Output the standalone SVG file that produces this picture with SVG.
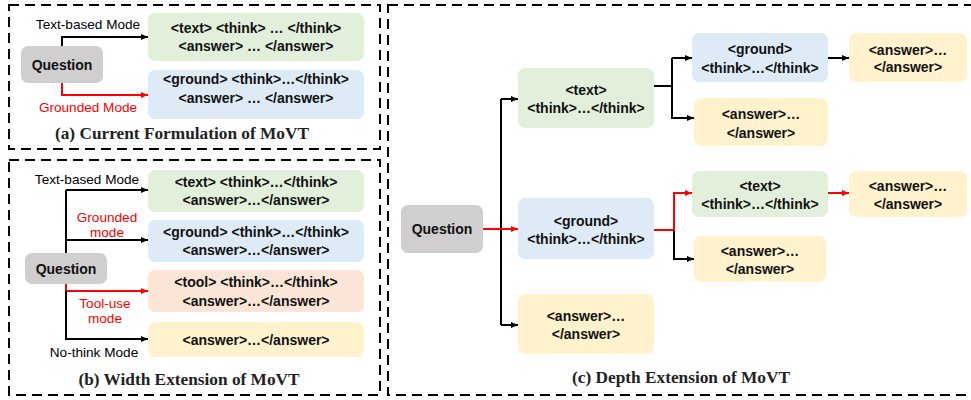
<svg xmlns="http://www.w3.org/2000/svg" width="971" height="400" viewBox="0 0 971 400">
<defs>
<marker id="ab" markerUnits="userSpaceOnUse" markerWidth="7" markerHeight="6" refX="7" refY="3" orient="auto"><path d="M0,0 L7,3 L0,6 z" fill="#000"/></marker>
<marker id="ar" markerUnits="userSpaceOnUse" markerWidth="7" markerHeight="6" refX="7" refY="3" orient="auto"><path d="M0,0 L7,3 L0,6 z" fill="#ff0000"/></marker>
<style>
.panel{fill:none;stroke:#000;stroke-width:2;stroke-dasharray:10,6}
.box{rx:7;ry:7}
.g{fill:#e2efda}.b{fill:#deebf7}.p{fill:#fbe5d6}.y{fill:#fff2cc}.q{fill:#d0cece}
.t{font-family:"Liberation Sans",Arial,sans-serif;font-weight:bold;font-size:14px;fill:#111;text-anchor:middle}
.lab{font-family:"Liberation Sans",Arial,sans-serif;font-size:13.6px;text-anchor:middle}
.red{fill:#ff0000}
.title{font-family:"Liberation Serif","Times New Roman",serif;font-weight:bold;font-size:17.3px;text-anchor:middle;fill:#222}
.cb{fill:none;stroke:#000;stroke-width:2;marker-end:url(#ab)}
.cbn{fill:none;stroke:#000;stroke-width:2}
.cr{fill:none;stroke:#ff0000;stroke-width:2;marker-end:url(#ar)}
.crn{fill:none;stroke:#ff0000;stroke-width:2}
</style>
</defs>
<rect width="971" height="400" fill="#fff"/>
<g id="panels">
<rect class="panel" x="9" y="5" width="371" height="144"/>
<rect class="panel" x="9" y="160" width="371" height="235"/>
<rect class="panel" x="388" y="5" width="590" height="390"/>
</g>
<g id="connectors">
<path class="cb" d="M62,46 V37 H148"/>
<path class="cr" d="M62,83 V95 H148"/>
<path class="cbn" d="M66,190 V253"/>
<path class="cb" d="M66,190 H148"/>
<path class="cb" d="M66,240 H148"/>
<path class="cr" d="M66,284 V291 H148"/>
<path class="cb" d="M66,291 V339 H148"/>
<path class="cbn" d="M501,99 V325"/>
<path class="cb" d="M501,99 H518"/>
<path class="cb" d="M501,325 H518"/>
<path class="cr" d="M483,229 H518"/>
<path class="cbn" d="M654,86 H672"/>
<path class="cb" d="M672,58 V118 H694"/>
<path class="cb" d="M672,58 H692"/>
<path class="cb" d="M828,58 H849"/>
<path class="cb" d="M674,230 V259 H694"/>
<path class="cr" d="M654,230 H674 V193 H692"/>
<path class="cr" d="M828,193 H849"/>
</g>
<g id="labels">
<text class="lab" x="88" y="29">Text-based Mode</text>
<text class="lab red" x="88" y="112">Grounded Mode</text>
<text class="lab" x="87" y="184">Text-based Mode</text>
<text class="lab red" x="107" y="222">Grounded</text>
<text class="lab red" x="107" y="237">mode</text>
<text class="lab red" x="105" y="308">Tool-use</text>
<text class="lab red" x="105" y="323">mode</text>
<text class="lab" x="94" y="357">No-think Mode</text>
<text class="title" x="182" y="139">(a) Current Formulation of MoVT</text>
<text class="title" x="189" y="385">(b) Width Extension of MoVT</text>
<text class="title" x="681" y="383">(c) Depth Extension of MoVT</text>
</g>
<g id="a-question"><rect class="box q" x="21" y="46" width="82" height="37"/><text class="t" x="62" y="69.5">Question</text></g>
<g id="a-text"><rect class="box g" x="148" y="13" width="216" height="48"/><text class="t" x="256" y="33">&lt;text&gt; &lt;think&gt; … &lt;/think&gt;</text><text class="t" x="256" y="51">&lt;answer&gt; … &lt;/answer&gt;</text></g>
<g id="a-ground"><rect class="box b" x="148" y="70" width="216" height="49"/><text class="t" x="256" y="84">&lt;ground&gt; &lt;think&gt;…&lt;/think&gt;</text><text class="t" x="256" y="103">&lt;answer&gt; … &lt;/answer&gt;</text></g>
<g id="b-question"><rect class="box q" x="25" y="253" width="82" height="31"/><text class="t" x="66" y="274">Question</text></g>
<g id="b-text"><rect class="box g" x="148" y="170" width="216" height="42"/><text class="t" x="256" y="187">&lt;text&gt; &lt;think&gt;…&lt;/think&gt;</text><text class="t" x="256" y="205">&lt;answer&gt;…&lt;/answer&gt;</text></g>
<g id="b-ground"><rect class="box b" x="148" y="220" width="216" height="42"/><text class="t" x="256" y="236.5">&lt;ground&gt; &lt;think&gt;…&lt;/think&gt;</text><text class="t" x="256" y="255">&lt;answer&gt;…&lt;/answer&gt;</text></g>
<g id="b-tool"><rect class="box p" x="148" y="270" width="216" height="42"/><text class="t" x="256" y="287">&lt;tool&gt; &lt;think&gt;…&lt;/think&gt;</text><text class="t" x="256" y="305.5">&lt;answer&gt;…&lt;/answer&gt;</text></g>
<g id="b-nothink"><rect class="box y" x="148" y="322" width="216" height="35"/><text class="t" x="256" y="345">&lt;answer&gt;…&lt;/answer&gt;</text></g>
<g id="c-question"><rect class="box q" x="401" y="205" width="82" height="48"/><text class="t" x="442" y="234">Question</text></g>
<g id="c-text1"><rect class="box g" x="518" y="68" width="136" height="60"/><text class="t" x="586" y="95">&lt;text&gt;</text><text class="t" x="586" y="113">&lt;think&gt;…&lt;/think&gt;</text></g>
<g id="c-ground1"><rect class="box b" x="518" y="198" width="136" height="61"/><text class="t" x="586" y="226">&lt;ground&gt;</text><text class="t" x="586" y="244">&lt;think&gt;…&lt;/think&gt;</text></g>
<g id="c-answer1"><rect class="box y" x="518" y="294" width="136" height="60"/><text class="t" x="586" y="321">&lt;answer&gt;…</text><text class="t" x="586" y="339">&lt;/answer&gt;</text></g>
<g id="c-ground2"><rect class="box b" x="692" y="33" width="136" height="49"/><text class="t" x="760" y="54">&lt;ground&gt;</text><text class="t" x="760" y="73">&lt;think&gt;…&lt;/think&gt;</text></g>
<g id="c-answer2"><rect class="box y" x="694" y="98" width="134" height="48"/><text class="t" x="761" y="119">&lt;answer&gt;…</text><text class="t" x="761" y="137.5">&lt;/answer&gt;</text></g>
<g id="c-answer3"><rect class="box y" x="849" y="33" width="118" height="49"/><text class="t" x="908" y="55">&lt;answer&gt;…</text><text class="t" x="908" y="72">&lt;/answer&gt;</text></g>
<g id="c-text2"><rect class="box g" x="692" y="171" width="136" height="46"/><text class="t" x="760" y="191">&lt;text&gt;</text><text class="t" x="760" y="209">&lt;think&gt;…&lt;/think&gt;</text></g>
<g id="c-answer4"><rect class="box y" x="694" y="236" width="132" height="46"/><text class="t" x="760" y="256">&lt;answer&gt;…</text><text class="t" x="760" y="274">&lt;/answer&gt;</text></g>
<g id="c-answer5"><rect class="box y" x="849" y="171" width="118" height="46"/><text class="t" x="908" y="191">&lt;answer&gt;…</text><text class="t" x="908" y="209">&lt;/answer&gt;</text></g>
</svg>
